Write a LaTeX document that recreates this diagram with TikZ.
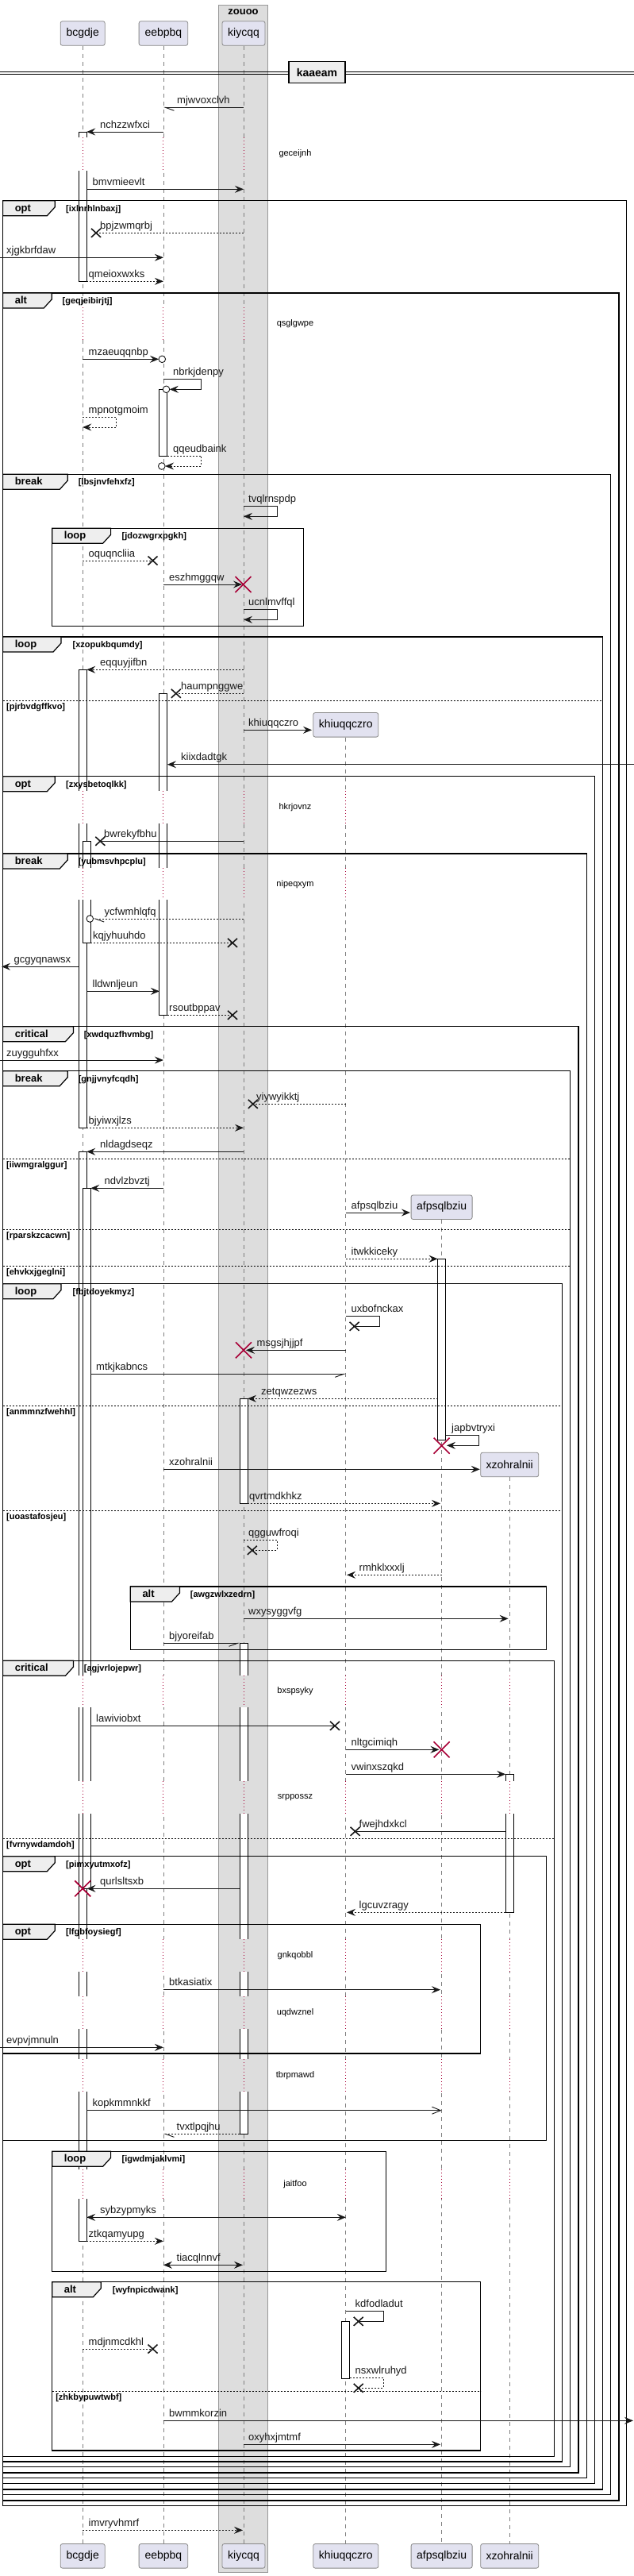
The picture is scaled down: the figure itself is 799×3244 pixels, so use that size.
\documentclass[tikz,border=0pt]{standalone}
\usepackage{fontspec}
\setmainfont{Liberation Sans}
\usetikzlibrary{arrows.meta}
\definecolor{pfill}{HTML}{E2E2F0}
\definecolor{pdraw}{HTML}{888888}
\definecolor{lifec}{HTML}{808080}
\definecolor{boxfill}{HTML}{DDDDDD}
\definecolor{boxdraw}{HTML}{999999}
\definecolor{dred}{HTML}{A80036}
\definecolor{tabfill}{HTML}{EEEEEE}
\definecolor{msgc}{HTML}{181818}
\tikzset{
 pbox/.style={draw=pdraw, fill=pfill, rounded corners=2.5pt, line width=0.8pt, minimum height=30.6pt, inner sep=0pt, font=\fontsize{14}{16}\selectfont},
 life/.style={draw=lifec, line width=0.7pt, dash pattern=on 5pt off 5pt},
 dline/.style={draw=dred, line width=1pt, dash pattern=on 1pt off 3pt},
 actb/.style={draw=black, fill=white, line width=0.9pt},
 sol/.style={draw=msgc, line width=0.9pt},
 dsh/.style={sol, dash pattern=on 2pt off 2pt},
 arr/.style={-{Stealth[length=11pt,width=9pt,inset=4pt]}},
 barr/.style={{Stealth[length=11pt,width=9pt,inset=4pt]}-{Stealth[length=11pt,width=9pt,inset=4pt]}},
 opn/.style={-{Straight Barb[length=11pt,width=9pt]}},
 hl/.style={-{Straight Barb[left,length=11pt,width=8pt]}},
 hr/.style={-{Straight Barb[right,length=11pt,width=8pt]}},
 lbl/.style={anchor=base west, inner sep=0pt, font=\fontsize{13}{15}\selectfont, text=msgc},
 xm/.style={draw=msgc, line width=1.6pt},
 rx/.style={draw=dred, line width=1.6pt},
 ocst/.style={draw=msgc, fill=white, line width=0.9pt},
 frm/.style={draw=black, line width=1.4pt},
 ftab/.style={draw=black, fill=tabfill, line width=1.2pt},
 ftitle/.style={anchor=base west, inner sep=0pt, font=\bfseries\fontsize{13}{15}\selectfont},
 fcond/.style={anchor=base west, inner sep=0pt, font=\bfseries\fontsize{11}{13}\selectfont},
 elsel/.style={draw=black, line width=0.9pt, dash pattern=on 2pt off 2pt},
 dtxt/.style={inner sep=0pt, font=\fontsize{11}{13}\selectfont},
}
\newcommand{\xA}{104.2}
\newcommand{\xB}{205.9}
\newcommand{\xC}{307}
\newcommand{\xD}{435.8}
\newcommand{\xE}{556.6}
\newcommand{\xF}{642.2}
\newcommand{\msg}[7]{\coordinate (#1a) at (#2,#4);\coordinate (#1b) at (#3,#4);\draw[#5] (#1a) -- (#1b);\node[lbl] (#1t) at (#6,#4-5) {#7};}
\newcommand{\selfmsg}[9]{\coordinate (#1a) at (#2,#3);\coordinate (#1b) at (#6,#5);\draw[#7] (#1a) -- (#4,#3) -- (#4,#5) -- (#1b);\node[lbl] (#1t) at (#8,#3-5) {#9};}
\newcommand{\lx}[3]{\coordinate (#1) at (#2,#3);\draw[xm] (#2-6,#3-5.5) -- (#2+6,#3+5.5) (#2-6,#3+5.5) -- (#2+6,#3-5.5);}
\newcommand{\rxm}[3]{\coordinate (#1) at (#2,#3);\draw[rx] (#2-10,#3-10) -- (#2+10,#3+10) (#2-10,#3+10) -- (#2+10,#3-10);}
\newcommand{\ocirc}[3]{\coordinate (#1) at (#2,#3);\draw[ocst] (#1) circle (4.3pt);}
\newcommand{\actbar}[4]{\filldraw[actb] (#1,#3) rectangle (#2,#4);}
\newcommand{\dseg}[4]{\fill[#4] (#1-12,#2) rectangle (#1+12,#3);\draw[dline] (#1,#2) -- (#1,#3);}
\newcommand{\dlyA}[4]{\dseg{\xA}{#2}{#3}{white}\dseg{\xB}{#2}{#3}{white}\dseg{\xC}{#2}{#3}{boxfill}\node[dtxt] (#1) at (372,{(#2+#3)/2}) {#4};}
\newcommand{\dlyB}[4]{\dlyA{#1}{#2}{#3}{#4}\dseg{\xD}{#2}{#3}{white}}
\newcommand{\dlyC}[4]{\dlyB{#1}{#2}{#3}{#4}\dseg{\xE}{#2}{#3}{white}\dseg{\xF}{#2}{#3}{white}}
\newcommand{\frmbox}[9]{\draw[frm] (#2,#4) rectangle (#3,#5);
 \filldraw[ftab] (#2,#4) -- (#2+#6,#4) -- (#2+#6,#4+8) -- (#2+#6-10,#4+19) -- (#2,#4+19) -- cycle;
 \node[ftitle] (#1k) at (#2+15,#4+13.5) {#7};
 \node[fcond] (#1c) at (#9,#4+13.5) {#8};}
\newcommand{\elsesep}[5]{\draw[elsel] (#2,#4) -- (#3,#4);\node[fcond] (#1) at (#2+4.4,#4+11) {#5};}
\begin{document}
\begin{tikzpicture}[x=1pt,y=-1pt]
\useasboundingbox (0,0) rectangle (799,3244);
% box
\filldraw[fill=boxfill, draw=boxdraw, line width=0.8pt] (275.7,6) rectangle (337.3,3239);
\node[font=\bfseries\fontsize{13}{15}\selectfont, inner sep=0pt] (zt) at (306.5,15) {zouoo};
% participants
\node[pbox, minimum width=56pt] (pA) at (\xA,42) {bcgdje};
\node[pbox, minimum width=61.6pt] (pB) at (\xB,42) {eebpbq};
\node[pbox, minimum width=54pt] (pC) at (\xC,42) {kiycqq};
\node[pbox, minimum width=82pt] (pD) at (\xD,912.8) {khiuqqczro};
\node[pbox, minimum width=77pt] (pE) at (\xE,1520.2) {afpsqlbziu};
\node[pbox, minimum width=73pt] (pF) at (\xF,1844.5) {xzohralnii};
\node[pbox, minimum width=56pt] (pAb) at (\xA,3218.8) {bcgdje};
\node[pbox, minimum width=61.6pt] (pBb) at (\xB,3218.8) {eebpbq};
\node[pbox, minimum width=54pt] (pCb) at (\xC,3218.8) {kiycqq};
\node[pbox, minimum width=82pt] (pDb) at (\xD,3218.8) {khiuqqczro};
\node[pbox, minimum width=77pt] (pEb) at (\xE,3218.8) {afpsqlbziu};
\node[pbox, minimum width=73pt] (pFb) at (\xF,3218.8) {xzohralnii};
\draw[life] (pA.south) -- (pAb.north);
\draw[life] (pB.south) -- (pBb.north);
\draw[life] (pC.south) -- (pCb.north);
\draw[life] (pD.south) -- (pDb.north);
\draw[life] (pE.south) -- (pEb.north);
\draw[life] (pF.south) -- (pFb.north);
% activation bars
\actbar{99.2}{109.2}{166}{354.3}
\actbar{200.9}{210.9}{490.3}{574.7}
\actbar{99.2}{109.2}{843.3}{1420.3}
\actbar{200.9}{210.9}{873.3}{1278.3}
\actbar{104.2}{114.2}{1059.3}{1187.3}
\actbar{99.2}{109.2}{1450.3}{2822.3}
\actbar{104.2}{114.2}{1496.3}{2378.3}
\actbar{551.6}{561.6}{1585.3}{1813.3}
\actbar{302}{312}{1761.3}{1893.3}
\actbar{302}{312}{2069.3}{2687.3}
\actbar{637.2}{647.2}{2234.3}{2408.3}
\actbar{430.8}{440.8}{2923.3}{2995}
% delays
\dlyA{d1}{173.3}{215}{geceijnh}
\dlyA{d2}{387.3}{428.3}{qsglgwpe}
\dlyB{d3}{995.7}{1036.7}{hkrjovnz}
\dlyB{d4}{1093.3}{1133.3}{nipeqxym}
\dlyC{d5}{2110}{2150}{bxspsyky}
\dlyC{d6}{2242.7}{2284}{srppossz}
\dlyC{d7}{2442.3}{2482.7}{gnkqobbl}
\dlyC{d8}{2514}{2555}{uqdwznel}
\dlyC{d9}{2593.3}{2634}{tbrpmawd}
\dlyC{d10}{2731.7}{2769}{jaitfoo}
% separator
\draw[line width=0.9pt] (0,90) -- (799,90) (0,93.3) -- (799,93.3);
\node[draw, line width=1.4pt, fill=tabfill, minimum width=71pt, minimum height=26.6pt, font=\bfseries\fontsize{14}{16}\selectfont, inner sep=0pt] (sep) at (399.5,91) {kaaeam};
% frames
\frmbox{f1}{3.6}{789.5}{252.7}{3155.7}{65.7}{opt}{[ixlnrhlnbaxj]}{83}
\frmbox{f2}{3.6}{779.8}{369}{3149}{61.6}{alt}{[geqjeibirjtj]}{78.5}
\frmbox{f3}{3.6}{769.5}{597.3}{3141.7}{81.6}{break}{[lbsjnvfehxfz]}{98.6}
\frmbox{f3a}{65.7}{382.4}{665.3}{788.3}{73.9}{loop}{[jdozwgrxpgkh]}{153.5}
\frmbox{f4}{3.6}{759.2}{802}{3135}{73.4}{loop}{[xzopukbqumdy]}{91.4}
\elsesep{e4a}{3.6}{759.2}{882}{[pjrbvdgffkvo]}
\frmbox{f5}{3.6}{749.5}{977.7}{3127.3}{65.7}{opt}{[zxysbetoqlkk]}{83}
\frmbox{f6}{3.6}{739.2}{1075}{3120.7}{81.6}{break}{[yubmsvhpcplu]}{98.6}
\frmbox{f7}{3.6}{729}{1292.7}{3114}{88.8}{critical}{[xwdquzfhvmbg]}{105.7}
\frmbox{f8}{3.6}{718.7}{1348.7}{3106.7}{81.6}{break}{[gnjjvnyfcqdh]}{98.6}
\elsesep{e8a}{3.6}{718.7}{1459}{[iiwmgralggur]}
\elsesep{e8b}{3.6}{718.7}{1548.3}{[rparskzcacwn]}
\elsesep{e8c}{3.6}{718.7}{1594.3}{[ehvkxjgeglni]}
\frmbox{f9}{3.6}{708.4}{1616.7}{3100}{73.4}{loop}{[fbjtdoyekmyz]}{91.4}
\elsesep{e9a}{3.6}{708.4}{1770.3}{[anmmnzfwehhl]}
\elsesep{e9b}{3.6}{708.4}{1902.3}{[uoastafosjeu]}
\frmbox{f9a}{164.3}{688.4}{1998}{2077.7}{62.1}{alt}{[awgzwlxzedrn]}{239.7}
\frmbox{f10}{3.6}{698.7}{2091.3}{3093.3}{88.8}{critical}{[agjvrlojepwr]}{105.7}
\elsesep{e10a}{3.6}{698.7}{2315.3}{[fvrnywdamdoh]}
\frmbox{f10a}{3.6}{688.4}{2337.7}{2695.3}{65.7}{opt}{[pimxyutmxofz]}{83}
\frmbox{f10b}{3.6}{605.7}{2423.3}{2586}{65.7}{opt}{[lfgbfoysiegf]}{83}
\frmbox{f10c}{65.7}{486.6}{2709.3}{2860.3}{73.9}{loop}{[igwdmjaklvmi]}{153.5}
\frmbox{f10d}{65.7}{605.7}{2873.7}{3086}{61.6}{alt}{[wyfnpicdwank]}{141.7}
\elsesep{e10d}{65.7}{605.7}{3011.3}{[zhkbypuwtwbf]}
% messages
\msg{m1}{\xC}{\xB}{135.3}{sol,hl}{223}{mjwvoxclvh}
\msg{m2}{\xB}{109.2}{166}{sol,arr}{126}{nchzzwfxci}
\msg{m3}{109.2}{\xC}{238.3}{sol,arr}{116.5}{bmvmieevlt}
\msg{m4}{\xC}{121}{293.3}{dsh}{126}{bpjzwmqrbj}\lx{m4x}{121}{293.3}
\msg{m5}{0}{\xB}{324.3}{sol,arr}{8}{xjgkbrfdaw}
\msg{m6}{109.2}{\xB}{354.3}{dsh,arr}{111.5}{qmeioxwxks}
\msg{m7}{\xA}{200}{452.3}{sol,arr}{111.5}{mzaeuqqnbp}\ocirc{m7o}{204.3}{452.3}
\selfmsg{m8}{\xB}{477.3}{253.6}{490.3}{213.8}{sol,arr}{218}{nbrkjdenpy}\ocirc{m8o}{209.5}{490.3}
\selfmsg{m9}{\xA}{525.3}{146.8}{538}{\xA}{dsh,arr}{111.5}{mpnotgmoim}
\selfmsg{m10}{210.9}{574}{253.6}{587}{208.1}{dsh,arr}{218}{qqeudbaink}\ocirc{m10o}{203.8}{587}
\selfmsg{m11}{\xC}{637.3}{349}{650.3}{\xC}{sol,arr}{313}{tvqlrnspdp}
\msg{m12}{\xA}{192.5}{706}{dsh}{111.5}{oquqncliia}\lx{m12x}{192.5}{706}
\msg{m13}{\xB}{305}{736}{sol,arr}{213}{eszhmggqw}\rxm{m13x}{306.5}{736}
\selfmsg{m14}{\xC}{767.3}{349}{780.3}{\xC}{sol,arr}{313}{ucnlmvffql}
\msg{m15}{\xC}{109.2}{843.3}{dsh,arr}{126}{eqquyjifbn}
\msg{m16}{\xC}{221.8}{873.3}{dsh}{228}{haumpnggwe}\lx{m16x}{221.8}{873.3}
\msg{m17}{\xC}{393}{919.3}{sol,arr}{313}{khiuqqczro}
\msg{m18}{799}{210.9}{962.7}{sol,arr}{228}{kiixdadtgk}
\msg{m19}{\xC}{126.3}{1059.3}{sol}{131}{bwrekyfbhu}\lx{m19x}{126.3}{1059.3}
\msg{m20}{\xC}{117.6}{1157}{dsh,hl}{131.5}{ycfwmhlqfq}\ocirc{m20o}{113.3}{1157}
\msg{m21}{114.2}{293}{1187.3}{dsh}{117}{kqjyhuuhdo}\lx{m21x}{293}{1187.3}
\msg{m22}{99.2}{2}{1217.3}{sol,arr}{17.5}{gcgyqnawsx}
\msg{m23}{109.2}{200.9}{1248.3}{sol,arr}{116.5}{lldwnljeun}
\msg{m24}{210.9}{293}{1278.3}{dsh}{213}{rsoutbppav}\lx{m24x}{293}{1278.3}
\msg{m25}{0}{\xB}{1335}{sol,arr}{8}{zuygguhfxx}
\msg{m26}{\xD}{318.8}{1390.3}{dsh}{323}{yiywyikktj}\lx{m26x}{318.8}{1390.3}
\msg{m27}{109.2}{\xC}{1420.3}{dsh,arr}{111.5}{bjyiwxjlzs}
\msg{m28}{\xC}{109.2}{1450.3}{sol,arr}{126}{nldagdseqz}
\msg{m29}{\xB}{114.2}{1496.3}{sol,arr}{131.5}{ndvlzbvztj}
\msg{m30}{\xD}{517}{1527}{sol,arr}{442.5}{afpsqlbziu}
\msg{m31}{\xD}{551.6}{1585.3}{dsh,arr}{442.5}{itwkkiceky}
\selfmsg{m32}{\xD}{1657.3}{478}{1670.3}{446.6}{sol}{442.5}{uxbofnckax}\lx{m32x}{446.6}{1670.3}
\msg{m33}{\xD}{310}{1700.3}{sol,arr}{323.5}{msgsjhjjpf}\rxm{m33x}{\xC}{1700.3}
\msg{m34}{114.2}{\xD}{1730.3}{sol,hr}{121}{mtkjkabncs}
\msg{m35}{551.6}{312}{1761.3}{dsh,arr}{329}{zetqwzezws}
\selfmsg{m36}{561.6}{1807.7}{603.7}{1820.3}{563}{sol,arr}{569}{japbvtryxi}\rxm{m36x}{\xE}{1820.7}
\msg{m37}{\xB}{604.7}{1850.3}{sol,arr}{213}{xzohralnii}
\msg{m38}{312}{555}{1893.3}{dsh,arr}{314}{qvrtmdkhkz}
\selfmsg{m39}{\xC}{1939.3}{349}{1952.3}{317.8}{dsh}{313}{qgguwfroqi}\lx{m39x}{317.8}{1952.3}
\msg{m40}{\xE}{437}{1983.3}{dsh,arr}{452.5}{rmhklxxxlj}
\msg{m41}{\xC}{640.6}{2038.3}{sol,arr}{313}{wxysyggvfg}
\msg{m42}{\xB}{302}{2069.3}{sol,hr}{213}{bjyoreifab}
\msg{m43}{114.2}{422}{2173.3}{sol}{121}{lawiviobxt}\lx{m43x}{422}{2173.3}
\msg{m44}{\xD}{553.4}{2203.3}{sol,arr}{442.5}{nltgcimiqh}\rxm{m44x}{\xE}{2203.3}
\msg{m45}{\xD}{637.2}{2234.3}{sol,arr}{442.5}{vwinxszqkd}
\msg{m46}{637.2}{447.6}{2306.3}{sol}{452.5}{fwejhdxkcl}\lx{m46x}{447.6}{2306.3}
\msg{m47}{302}{109.5}{2378.3}{sol,arr}{126}{qurlsltsxb}\rxm{m47x}{\xA}{2378.3}
\msg{m48}{637.2}{437}{2408.3}{dsh,arr}{452.5}{lgcuvzragy}
\msg{m49}{\xB}{555}{2505.7}{sol,arr}{213}{btkasiatix}
\msg{m50}{0}{\xB}{2578.3}{sol,arr}{8}{evpvjmnuln}
\msg{m51}{109.2}{\xE}{2657.7}{sol,opn}{116.5}{kopkmmnkkf}
\msg{m52}{302}{\xB}{2687.3}{dsh,hl}{222.5}{tvxtlpqjhu}
\msg{m53}{109.2}{\xD}{2792.3}{sol,barr}{126}{sybzypmyks}
\msg{m54}{109.2}{\xB}{2822.3}{dsh,arr}{111.5}{ztkqamyupg}
\msg{m55}{\xB}{306}{2852.3}{sol,barr}{222.5}{tiacqlnnvf}
\selfmsg{m56}{\xD}{2910.3}{483}{2923.3}{451.7}{sol}{447.5}{kdfodladut}\lx{m56x}{451.7}{2923.3}
\msg{m57}{\xA}{192.5}{2958}{dsh}{111.5}{mdjnmcdkhl}\lx{m57x}{192.5}{2958}
\selfmsg{m58}{440.8}{2994.3}{483}{3007.3}{451.7}{dsh}{447.5}{nsxwlruhyd}\lx{m58x}{451.7}{3007.3}
\msg{m59}{\xB}{798}{3048.3}{sol,arr}{213}{bwmmkorzin}
\msg{m60}{\xC}{555}{3078.3}{sol,arr}{313}{oxyhxjmtmf}
\msg{m61}{\xA}{306}{3186.3}{dsh,arr}{111.5}{imvryvhmrf}
\end{tikzpicture}
\end{document}
